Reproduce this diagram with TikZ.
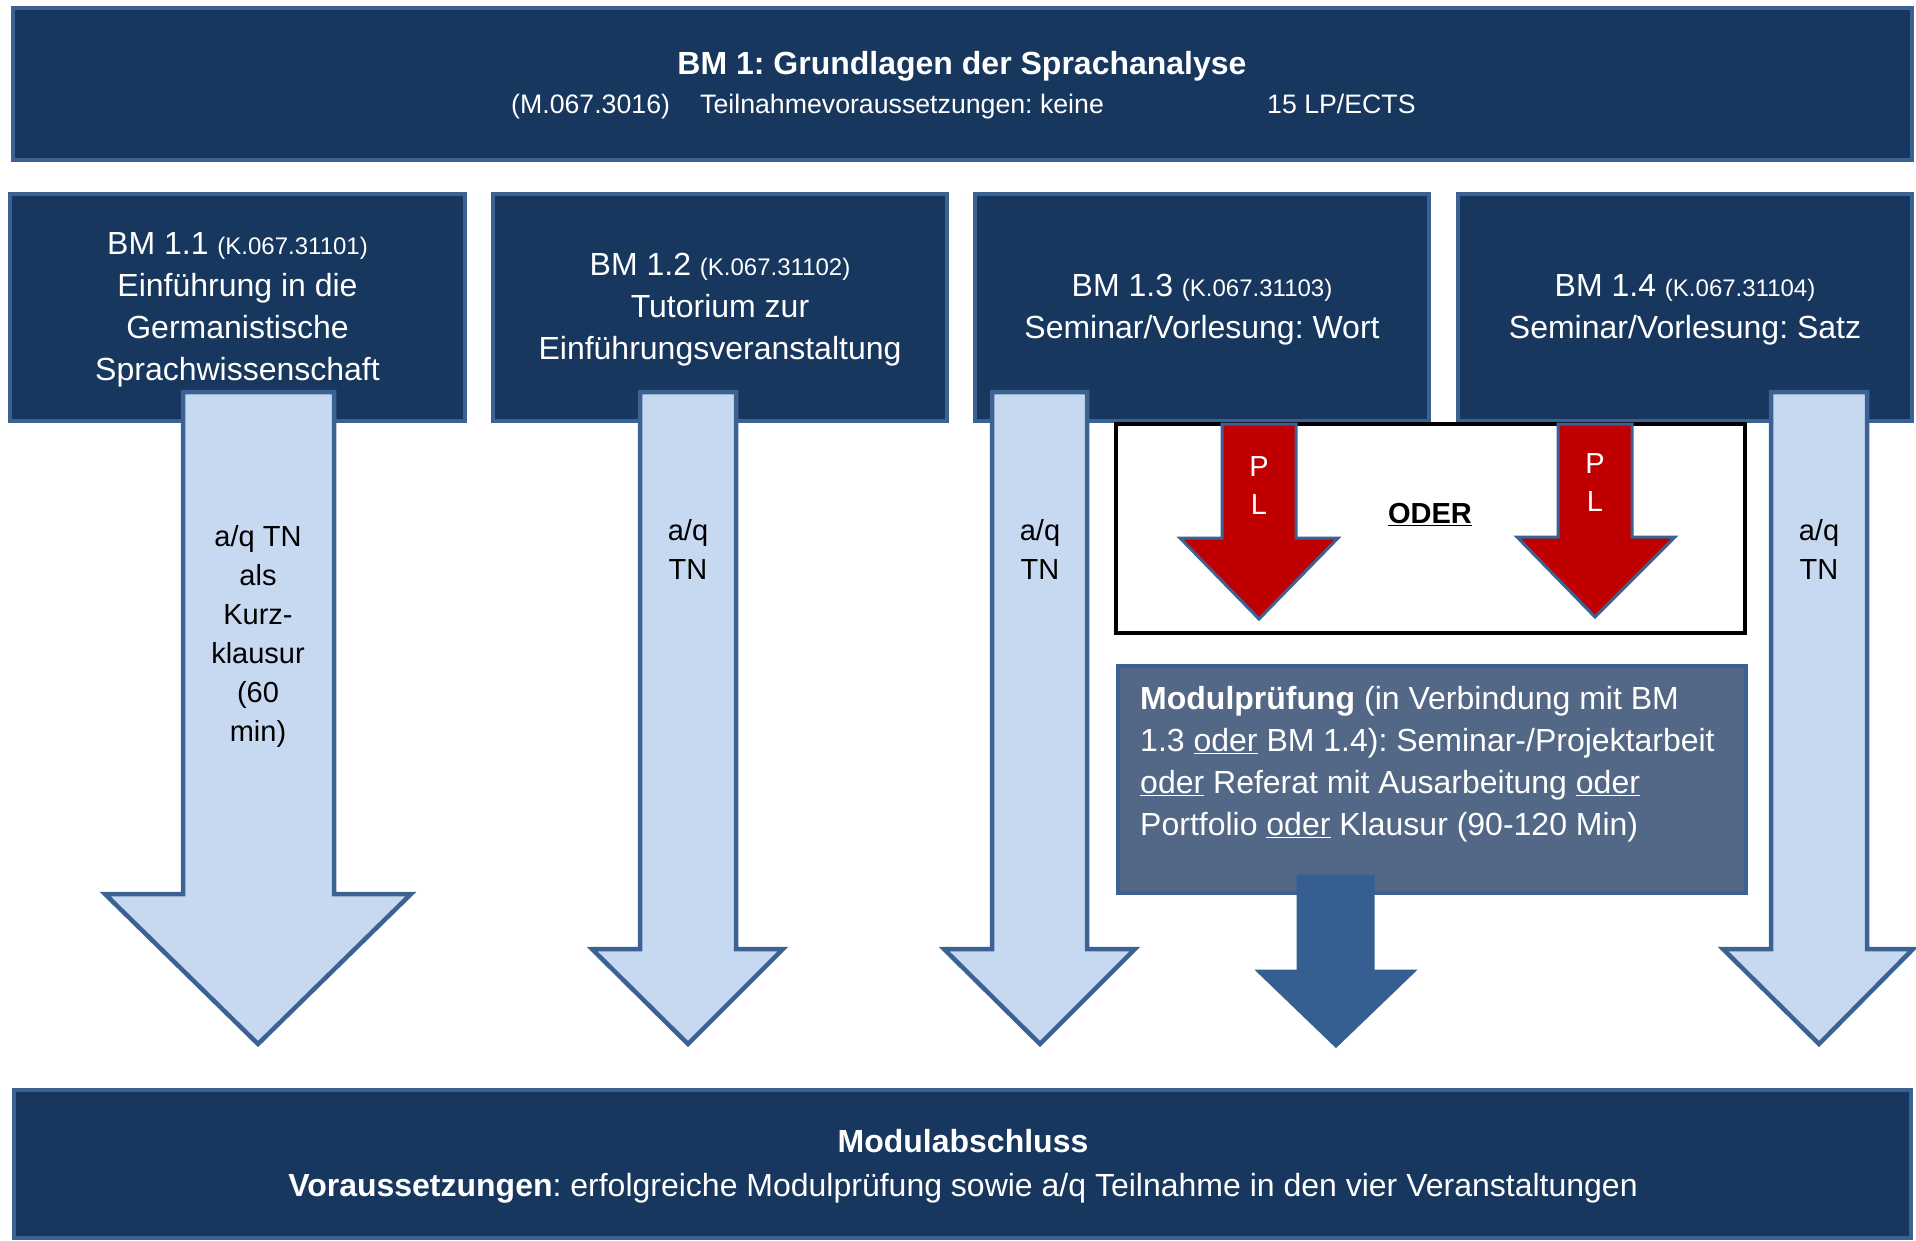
\documentclass[tikz,border=0pt]{standalone}
\usepackage{fontspec}
\setmainfont{Liberation Sans}
\frenchspacing
\definecolor{navy}{RGB}{24,55,94}
\definecolor{edgeblue}{RGB}{60,98,148}
\definecolor{lightfill}{RGB}{198,217,241}
\definecolor{greyblue}{RGB}{83,104,135}
\definecolor{midblue}{RGB}{54,95,145}
\definecolor{plred}{RGB}{192,0,0}
\newcommand\smallcode{\fontsize{24}{42}\selectfont}
\begin{document}
\begin{tikzpicture}[x=1pt,y=-1pt,
  bigbox/.style={draw=edgeblue, fill=navy, line width=4.5pt, inner sep=0pt, text=white, align=center, font=\fontsize{32}{42}\selectfont},
  boxtext/.style={text=white, align=center, inner sep=0pt, font=\fontsize{32}{42}\selectfont},
  bluearrow/.style={draw=edgeblue, fill=lightfill, line width=4.5pt, line join=miter},
  redarrow/.style={draw=edgeblue, fill=plred, line width=3pt, line join=miter},
  darkarrow/.style={draw=midblue, fill=midblue, line width=3pt, line join=miter},
  arrowtext/.style={text=black, align=center, inner sep=0pt, font=\fontsize{29}{39}\selectfont},
  pltext/.style={text=white, align=center, inner sep=0pt, font=\fontsize{29}{38}\selectfont},
  toptext/.style={text=white, inner sep=0pt, font=\fontsize{26.7}{32}\selectfont}
]
\useasboundingbox (0,0) rectangle (1916,1240);

% top box
\node[bigbox, minimum width=1899pt, minimum height=152pt] (top) at (962.5,84) {};
\node[text=white, inner sep=0pt, font=\fontsize{32}{40}\selectfont\bfseries] (title) at (962,66) {BM 1: Grundlagen der Sprachanalyse};
\node[toptext, anchor=base west] (code) at (511,113.5) {(M.067.3016)};
\node[toptext, anchor=base west] (req) at (700,113.5) {Teilnahmevoraussetzungen: keine};
\node[toptext, anchor=base west] (lp) at (1267,113.5) {15 LP/ECTS};

% four course boxes
\node[bigbox, minimum width=455pt, minimum height=227pt] (bm11) at (237.5,307.5) {};
\node[bigbox, minimum width=454pt, minimum height=227pt] (bm12) at (720,307.5) {};
\node[bigbox, minimum width=454pt, minimum height=227pt] (bm13) at (1202,307.5) {};
\node[bigbox, minimum width=454pt, minimum height=227pt] (bm14) at (1685,307.5) {};
\node[boxtext] (bm11t) at (237.5,309.5)
  {BM 1.1 {\smallcode(K.067.31101)}\\Einführung in die\\Germanistische\\Sprachwissenschaft};
\node[boxtext] (bm12t) at (720,309.5)
  {BM 1.2 {\smallcode(K.067.31102)}\\Tutorium zur\\Einführungsveranstaltung};
\node[boxtext] (bm13t) at (1202,309.5)
  {BM 1.3 {\smallcode(K.067.31103)}\\Seminar/Vorlesung: Wort};
\node[boxtext] (bm14t) at (1685,309.5)
  {BM 1.4 {\smallcode(K.067.31104)}\\Seminar/Vorlesung: Satz};

% ODER box
\node[draw=black, fill=white, line width=4pt, minimum width=629pt, minimum height=209pt, inner sep=0pt] (oderbox) at (1430.5,528.5) {};

% Modulpruefung box
\node[draw=edgeblue, fill=greyblue, line width=4pt, minimum width=628pt, minimum height=227pt, inner sep=0pt] (mpbox) at (1431.5,779) {};

% bottom box
\node[bigbox, minimum width=1897pt, minimum height=148pt] (bottom) at (962.5,1164) {};
\node[boxtext, font=\fontsize{32}{44}\selectfont] (bottomt) at (963,1166)
  {\textbf{Modulabschluss}\\\textbf{Voraussetzungen}: erfolgreiche Modulprüfung sowie a/q Teilnahme in den vier Veranstaltungen};

% light blue arrows
\draw[bluearrow] (183,392) -- (334,392) -- (334,894) -- (411,894) -- (258,1044) -- (105,894) -- (183,894) -- cycle;
\draw[bluearrow] (640,392) -- (736,392) -- (736,949) -- (783,949) -- (688,1044) -- (592,949) -- (640,949) -- cycle;
\draw[bluearrow] (992,392) -- (1087,392) -- (1087,949) -- (1135,949) -- (1040,1044) -- (944,949) -- (992,949) -- cycle;
\draw[bluearrow] (1771,392) -- (1867,392) -- (1867,949) -- (1913,949) -- (1819,1044) -- (1723,949) -- (1771,949) -- cycle;

% red arrows
\draw[redarrow] (1222,424) -- (1296,424) -- (1296,538) -- (1338,538) -- (1259,619) -- (1180,538) -- (1222,538) -- cycle;
\draw[redarrow] (1558,424) -- (1632,424) -- (1632,537) -- (1675,537) -- (1595,617) -- (1517,537) -- (1558,537) -- cycle;

% dark arrow
\draw[darkarrow] (1298,876) -- (1373,876) -- (1373,971) -- (1414,971) -- (1336,1046) -- (1258,971) -- (1298,971) -- cycle;

% arrow texts
\node[arrowtext] (t11) at (258,636) {a/q TN\\als\\Kurz-\\klausur\\(60\\min)};
\node[arrowtext] (t12) at (688,549) {a/q\\TN};
\node[arrowtext] (t13) at (1040,549) {a/q\\TN};
\node[arrowtext] (t14) at (1819,549) {a/q\\TN};
\node[pltext] (pl1) at (1259,486) {P\\L};
\node[pltext] (pl2) at (1595,483) {P\\L};
\node[text=black, inner sep=0pt, font=\fontsize{29}{35}\selectfont\bfseries] (oder) at (1430,515) {\underline{ODER}};

% Modulpruefung text
\node[text=white, align=left, inner sep=0pt, anchor=west, font=\fontsize{32}{42}\selectfont] (mptext) at (1140,764)
  {\textbf{Modulprüfung} (in Verbindung mit BM\\1.3 \underline{oder} BM 1.4): Seminar-/Projektarbeit\\\underline{oder} Referat mit Ausarbeitung \underline{oder}\\Portfolio \underline{oder} Klausur (90-120 Min)};
\end{tikzpicture}
\end{document}
